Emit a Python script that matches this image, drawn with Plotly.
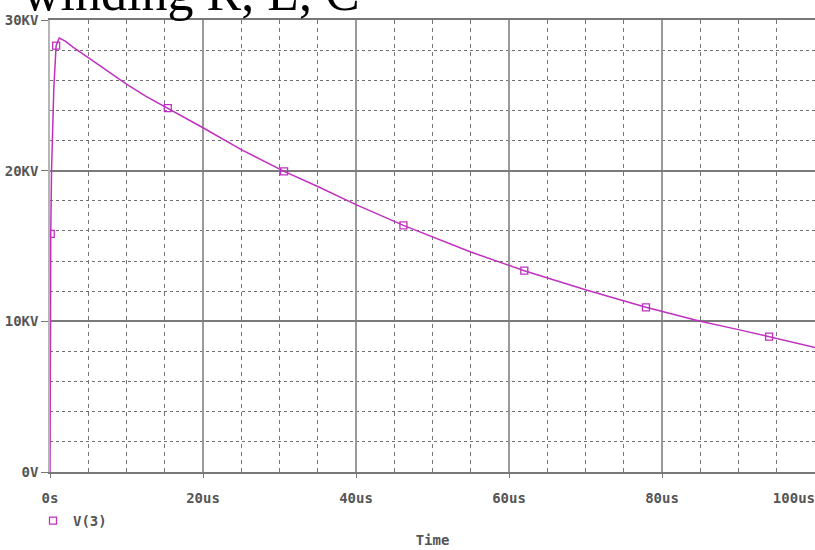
import plotly.graph_objects as go

# Time (us) and voltage (KV)
time_us = [0, 0.02, 0.05, 0.1, 0.2, 0.35, 0.5, 0.8, 1.2, 2, 3, 5, 7.5, 10, 12.5,
           15.4, 20, 25, 30.6, 35, 40, 46.2, 50, 55, 62, 70, 77.9, 85, 90, 94, 100]
volt_kv = [0, 7.9, 13.0, 15.8, 20.0, 23.5, 25.5, 28.3, 28.8, 28.6, 28.2, 27.5, 26.6,
           25.75, 24.95, 24.15, 22.85, 21.4, 19.95, 18.95, 17.75, 16.37, 15.6, 14.6, 13.36,
           12.1, 10.93, 10.0, 9.45, 8.98, 8.27]

# Marker positions on the trace
marker_t = [0.1, 0.8, 15.4, 30.6, 46.2, 62.0, 77.9, 94.0]
marker_v = [15.8, 28.3, 24.15, 19.95, 16.37, 13.36, 10.93, 8.98]

x_tickvals = [0, 20, 40, 60, 80, 100]
x_ticktext = ["0s", "20us", "40us", "60us", "80us", "100us\u00a0\u00a0\u00a0\u00a0\u00a0"]
y_tickvals = [0, 10, 20, 30]
y_ticktext = ["0V", "10KV", "20KV", "30KV"]

title_text = "winding R, L, C"
series_name = "V(3)"
x_title = "Time"

MAG = "#c030c0"
TICKFONT = dict(family="DejaVu Sans Mono", size=14, color="#555555", weight="bold")

fig = go.Figure()
fig.add_trace(go.Scatter(x=time_us, y=volt_kv, mode="lines",
                         line=dict(color=MAG, width=1.5), showlegend=False,
                         hoverinfo="skip", cliponaxis=False))
fig.add_trace(go.Scatter(x=marker_t, y=marker_v, mode="markers", name=series_name,
                         marker=dict(symbol="square-open", size=7,
                                     color=MAG, line=dict(width=1.3, color=MAG))))

fig.update_layout(
    width=815, height=550,
    margin=dict(l=50, r=0, t=20, b=78, autoexpand=False),
    paper_bgcolor="white", plot_bgcolor="white",
    showlegend=True,
    legend=dict(x=(33 - 50) / 765, y=(472 - 505) / 452, xanchor="left", yanchor="top",
                font=TICKFONT, itemwidth=30, bgcolor="rgba(0,0,0,0)",
                tracegroupgap=0),
    xaxis=dict(range=[0, 100], tickvals=x_tickvals, ticktext=x_ticktext,
               tickfont=TICKFONT, showline=True, linecolor="#777777", linewidth=2,
               mirror=True, ticks="outside", ticklen=4, tickcolor="#777777",
               ticklabelstandoff=8, automargin=False, ticklabeloverflow="allow",
               showgrid=True, gridcolor="#9a9a9a", gridwidth=1.5, zeroline=False,
               title=dict(text=x_title, font=TICKFONT, standoff=30),
               minor=dict(dtick=5, tick0=0, showgrid=True, gridcolor="#777777",
                          griddash="4px,4px", gridwidth=1)),
    yaxis=dict(range=[0, 30], tickvals=y_tickvals, ticktext=y_ticktext,
               tickfont=TICKFONT, showline=True, linecolor="#b5b5b5", linewidth=1.5,
               ticks="outside", ticklen=7, tickcolor="#777777", automargin=False,
               showgrid=True, gridcolor="#7a7a7a", gridwidth=1.5, zeroline=False,
               minor=dict(dtick=2, tick0=0, showgrid=True, gridcolor="#707070",
                          griddash="3px,3px", gridwidth=1.2)),
    annotations=[dict(text=title_text, xref="paper", yref="paper",
                      x=(21 - 50) / 765, y=(472 + 7) / 452,
                      xanchor="left", yanchor="middle", showarrow=False,
                      font=dict(family="Liberation Serif", size=52, color="black"))],
)

fig.write_html("out.html", config={"displayModeBar": False},
               post_script="document.body.style.margin='0';document.body.style.overflow='hidden';")
